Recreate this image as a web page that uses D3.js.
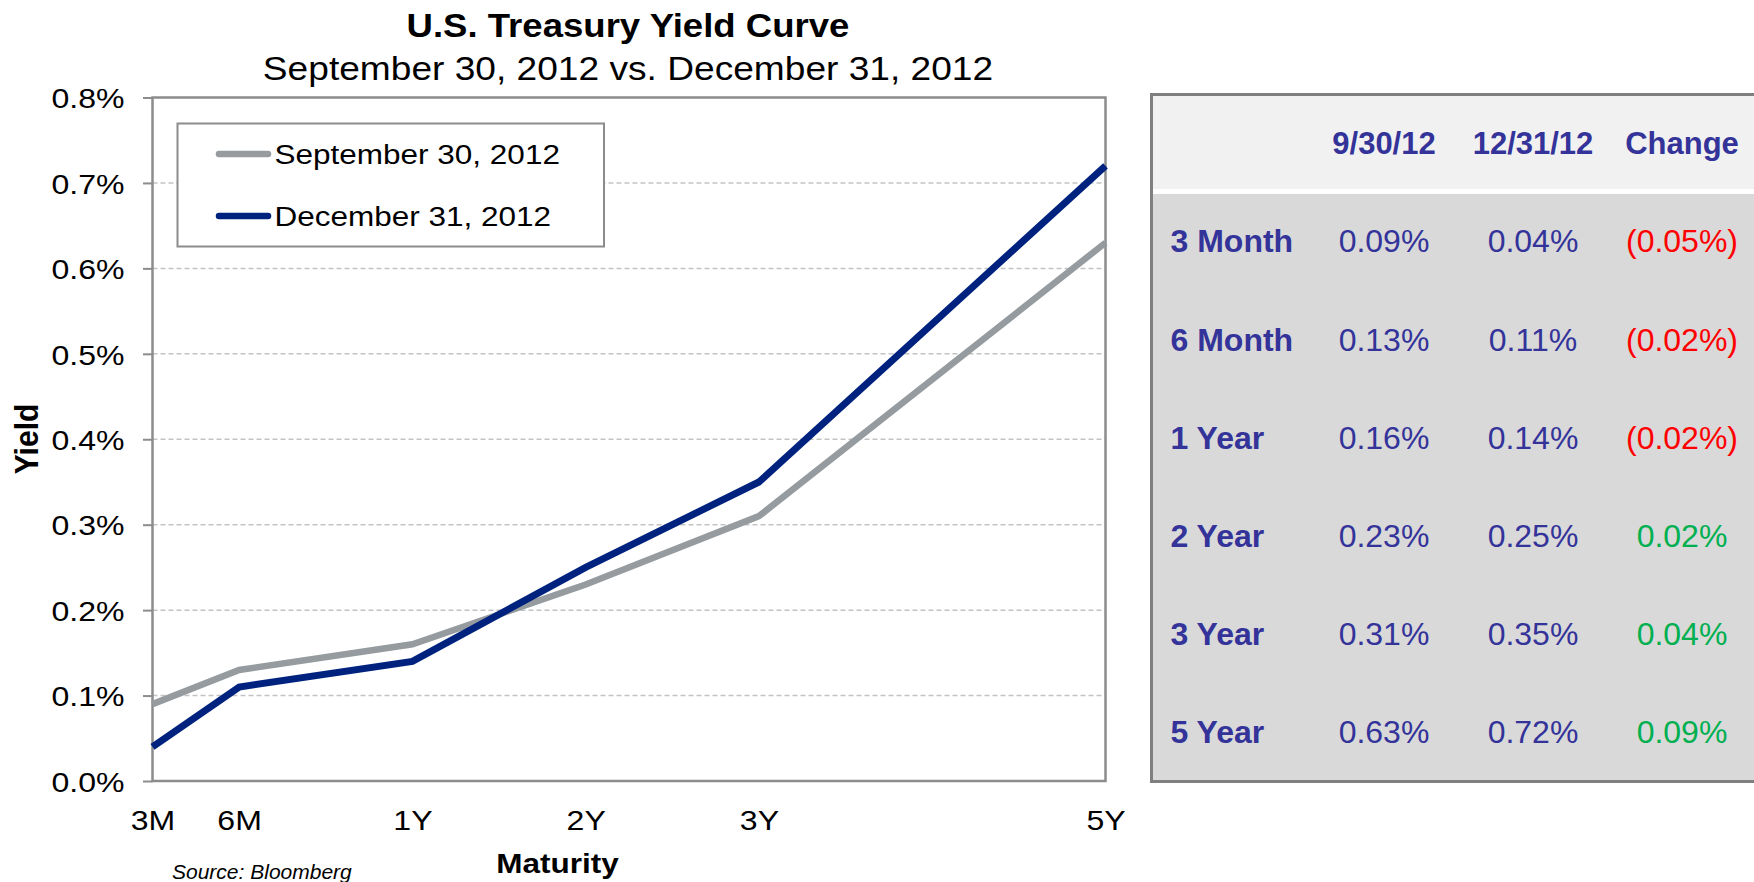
<!DOCTYPE html>
<html>
<head>
<meta charset="utf-8">
<script src="https://cdn.jsdelivr.net/npm/d3@7"></script>
<style>
  html, body { margin: 0; padding: 0; background: #fff; }
  svg { display: block; font-family: "Liberation Sans", Arial, Helvetica, sans-serif; }
</style>
</head>
<body>
<svg id="chart" width="1754" height="882"></svg>
<script>
// ---- data ----
const tenors = ["3M", "6M", "1Y", "2Y", "3Y", "5Y"];
const tenorYears = [0.25, 0.5, 1, 2, 3, 5];
const rowLabels = ["3 Month", "6 Month", "1 Year", "2 Year", "3 Year", "5 Year"];
const yieldSep = [0.09, 0.13, 0.16, 0.23, 0.31, 0.63];
const yieldDec = [0.04, 0.11, 0.14, 0.25, 0.35, 0.72];
const yieldChange = [-0.05, -0.02, -0.02, 0.02, 0.04, 0.09];
const seriesNames = ["September 30, 2012", "December 31, 2012"];
const tableHeaders = ["9/30/12", "12/31/12", "Change"];
const yTicks = [0, 0.1, 0.2, 0.3, 0.4, 0.5, 0.6, 0.7, 0.8];
const titleText = "U.S. Treasury Yield Curve";
const subtitleText = "September 30, 2012 vs. December 31, 2012";

// ---- layout ----
const SX = 1.125;               // horizontal stretch of chart lettering
const plot = { left: 152.5, right: 1105.5, top: 97.5, bottom: 781 };
const frameColor = "#8c8c8c";
const ink = "#000";
const tableBlue = "#333399";
const seriesColors = ["#959b9e", "#00227f"];

const svg = d3.select("#chart");

function stretchedText(parent, x, y, str, size, weight, anchor, style) {
  return parent.append("text")
    .attr("transform", `translate(${x},${y}) scale(${SX},1)`)
    .attr("text-anchor", anchor)
    .style("font-size", size + "px")
    .style("font-weight", weight)
    .style("font-style", style || "normal")
    .attr("fill", ink)
    .text(str);
}

// ---- scales ----
const y = d3.scaleLinear().domain([0, 0.8]).range([plot.bottom, plot.top]);
const unit = (plot.right - plot.left) / 5.5;
const x = d3.scaleLinear()
  .domain([0.25, 0.5, 1, 5])
  .range([plot.left, plot.left + unit * 0.5, plot.left + unit * 1.5, plot.right]);

// ---- titles ----
const midX = (plot.left + plot.right) / 2 - 1;
stretchedText(svg, midX, 36.8, titleText, 32.5, "bold", "middle");
stretchedText(svg, midX, 80, subtitleText, 33, "normal", "middle");

// ---- gridlines ----
svg.append("g")
  .selectAll("line")
  .data(yTicks.filter(t => t > 0 && t < 0.8))
  .join("line")
  .attr("x1", plot.left).attr("x2", plot.right)
  .attr("y1", d => y(d)).attr("y2", d => y(d))
  .attr("stroke", "#c3c3c3")
  .attr("stroke-width", 1.5)
  .attr("stroke-dasharray", "5,3");

// ---- y axis ----
const fmtPct = d => d.toFixed(1) + "%";
const yAxis = svg.append("g")
  .attr("transform", `translate(${plot.left},0)`)
  .call(d3.axisLeft(y).tickValues(yTicks).tickFormat(fmtPct).tickSizeInner(9.5).tickSizeOuter(0));
yAxis.select(".domain").remove();
yAxis.selectAll(".tick line").attr("stroke", frameColor).attr("stroke-width", 2);
yAxis.selectAll(".tick text")
  .attr("x", 0).attr("dy", "0.36em")
  .attr("transform", `translate(-28,0) scale(${SX},1)`)
  .attr("fill", ink)
  .style("font-size", "28.5px")
  .style("font-family", "inherit");

// ---- x axis ----
const xAxis = svg.append("g")
  .attr("transform", `translate(0,${plot.bottom})`)
  .call(d3.axisBottom(x).tickValues(tenorYears).tickFormat((d, i) => tenors[i]).tickSize(0));
xAxis.select(".domain").remove();
xAxis.selectAll(".tick text")
  .attr("y", 0).attr("dy", 0)
  .attr("transform", `translate(0,48.5) scale(${SX},1)`)
  .attr("fill", ink)
  .style("font-size", "28.5px")
  .style("font-family", "inherit");

// ---- plot frame ----
svg.append("rect")
  .attr("x", plot.left).attr("y", plot.top)
  .attr("width", plot.right - plot.left).attr("height", plot.bottom - plot.top)
  .attr("fill", "none").attr("stroke", frameColor).attr("stroke-width", 2.5);

// ---- axis titles and source ----
svg.append("text")
  .attr("transform", `translate(38,439) rotate(-90) scale(1,${SX})`)
  .attr("text-anchor", "middle")
  .style("font-size", "30px").style("font-weight", "bold")
  .attr("fill", ink).text("Yield");
stretchedText(svg, 557.5, 873.3, "Maturity", 28, "bold", "middle");
svg.append("text")
  .attr("x", 172).attr("y", 878.5)
  .style("font-size", "21px").style("font-style", "italic")
  .attr("fill", ink).text("Source: Bloomberg");

// ---- series lines ----
const line = d3.line().x((d, i) => x(tenorYears[i])).y(d => y(d));
svg.append("g")
  .selectAll("path")
  .data([yieldSep, yieldDec])
  .join("path")
  .attr("d", line)
  .attr("fill", "none")
  .attr("stroke", (d, i) => seriesColors[i])
  .attr("stroke-width", (d, i) => i === 0 ? 6.5 : 7);

// ---- legend ----
const legend = svg.append("g");
legend.append("rect")
  .attr("x", 177.5).attr("y", 123.5).attr("width", 426.5).attr("height", 123)
  .attr("fill", "#fff").attr("stroke", frameColor).attr("stroke-width", 2);
seriesNames.forEach((name, i) => {
  const ly = 154 + i * 62;
  legend.append("line")
    .attr("x1", 219).attr("x2", 268).attr("y1", ly).attr("y2", ly)
    .attr("stroke", seriesColors[i]).attr("stroke-width", 6.5).attr("stroke-linecap", "round");
  stretchedText(legend, 274.5, ly + 10, name, 28, "normal", "start");
});

// ---- table ----
const tbl = { left: 1151.5, right: 1754, top: 94.5, headBottom: 189, bodyTop: 194, bottom: 781.5 };
const colCenters = [1384, 1533, 1682];
const table = svg.append("g");
table.append("rect")
  .attr("x", tbl.left).attr("y", tbl.top)
  .attr("width", tbl.right - tbl.left).attr("height", tbl.headBottom - tbl.top)
  .attr("fill", "#f1f1f1");
table.append("rect")
  .attr("x", tbl.left).attr("y", tbl.bodyTop)
  .attr("width", tbl.right - tbl.left).attr("height", tbl.bottom - tbl.bodyTop)
  .attr("fill", "#d9d9d9");
table.append("path")
  .attr("d", `M${tbl.right},${tbl.top}H${tbl.left}V${tbl.bottom}H${tbl.right}`)
  .attr("fill", "none").attr("stroke", "#7f7f7f").attr("stroke-width", 3);

table.selectAll("text.head")
  .data(tableHeaders)
  .join("text")
  .attr("class", "head")
  .attr("x", (d, i) => colCenters[i]).attr("y", 154.3)
  .attr("text-anchor", "middle")
  .style("font-size", "31px").style("font-weight", "bold")
  .attr("fill", tableBlue)
  .text(d => d);

const fmt2 = v => v.toFixed(2) + "%";
const rows = table.selectAll("g.row")
  .data(rowLabels.map((label, i) => ({ label, sep: yieldSep[i], dec: yieldDec[i], chg: yieldChange[i] })))
  .join("g")
  .attr("class", "row")
  .attr("transform", (d, i) => `translate(0,${252.3 + i * 98.2})`);

rows.append("text")
  .attr("x", 1170.5)
  .style("font-size", "32px").style("font-weight", "bold")
  .attr("fill", tableBlue)
  .text(d => d.label);
rows.append("text")
  .attr("x", colCenters[0]).attr("text-anchor", "middle")
  .style("font-size", "32px")
  .attr("fill", tableBlue)
  .text(d => fmt2(d.sep));
rows.append("text")
  .attr("x", colCenters[1]).attr("text-anchor", "middle")
  .style("font-size", "32px")
  .attr("fill", tableBlue)
  .text(d => fmt2(d.dec));
rows.append("text")
  .attr("x", colCenters[2]).attr("text-anchor", "middle")
  .style("font-size", "32px")
  .attr("fill", d => d.chg < 0 ? "#ff0000" : "#00b050")
  .text(d => d.chg < 0 ? "(" + fmt2(-d.chg) + ")" : fmt2(d.chg));
</script>
</body>
</html>
